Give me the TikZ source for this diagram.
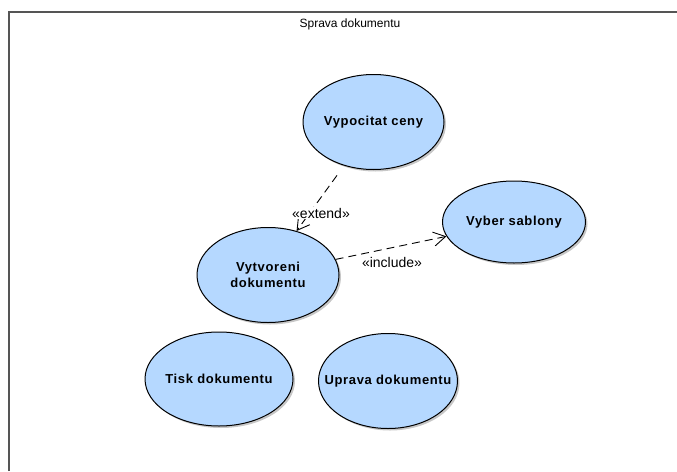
\documentclass[tikz,border=0pt]{standalone}
\usepackage{fontspec}
\setmainfont{Liberation Sans}
\newfontfamily\ucfont[LetterSpace=5]{Liberation Sans}
\usetikzlibrary{shapes.geometric,arrows.meta,shadows}
\definecolor{ucfill}{RGB}{181,216,255}
\definecolor{framegray}{RGB}{85,85,85}
\newcommand{\zw}[1]{\makebox[0pt]{#1}}
\tikzset{
  usecase/.style={ellipse, draw=black, line width=1pt, fill=ucfill,
    inner sep=0pt, align=center,
    font=\ucfont\fontsize{13}{15}\selectfont\bfseries,
    drop shadow={shadow xshift=2pt, shadow yshift=-2pt, fill=black, opacity=0.22}},
  dep/.style={draw=black, line width=0.9pt, dash pattern=on 8pt off 5pt,
    -{Straight Barb[length=12pt, width=14pt, line width=0.9pt]}},
  stereo/.style={font=\fontsize{14}{16}\selectfont, text=black, inner sep=1pt, fill=white}
}
\begin{document}
\begin{tikzpicture}[x=1pt,y=-1pt]
\useasboundingbox (0,0) rectangle (677,471);
\fill[white] (0,0) rectangle (677,471);
% frame
\draw[framegray, line width=1.6pt] (9,471) -- (9,12) -- (677,12);
\node[font=\fontsize{12}{14}\selectfont, inner sep=0pt] (title) at (350,24) {Sprava dokumentu};
% use cases
\node[usecase, minimum width=141pt, minimum height=95pt] (vc) at (373.5,122) {\zw{Vypocitat ceny}};
\node[usecase, minimum width=143pt, minimum height=82pt] (vs) at (514,222) {\zw{Vyber sablony}};
\node[usecase, minimum width=142pt, minimum height=95pt] (vd) at (268,275) {\zw{Vytvoreni}\\[1pt]\zw{dokumentu}};
\node[usecase, minimum width=148pt, minimum height=94pt] (td) at (219,379) {\zw{Tisk dokumentu}};
\node[usecase, minimum width=139pt, minimum height=95pt] (ud) at (388,381) {\zw{Uprava dokumentu}};
% relations
\draw[dep, shorten <=12pt] (vc.236) -- (vd.57);
\draw[dep] (vd.13) -- (vs.192.7);
\node[stereo] (lext) at (321,213) {«extend»};
\node[stereo] (linc) at (392,262) {«include»};
\end{tikzpicture}
\end{document}
